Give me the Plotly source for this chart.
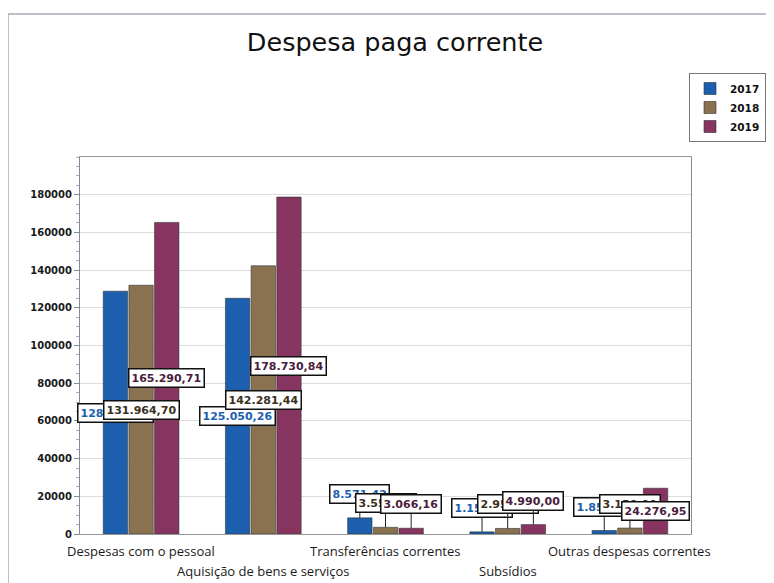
import plotly.graph_objects as go

categories = ["Despesas com o pessoal", "Aquisição de bens e serviços",
              "Transferências correntes", "Subsídios", "Outras despesas correntes"]
tick_labels = ["Despesas com o pessoal", "Aquisição de bens e serviços",
               "Transferências correntes", "Subsídios", "Outras despesas correntes"]
tick_rows = [0, 1, 0, 1, 0]
series_names = ["2017", "2018", "2019"]
v2017 = [128800.00, 125050.26, 8571.42, 1150.00, 1850.00]
v2018 = [131964.70, 142281.44, 3550.00, 2950.00, 3150.00]
v2019 = [165290.71, 178730.84, 3066.16, 4990.00, 24276.95]
y_ticks = [0, 20000, 40000, 60000, 80000, 100000, 120000, 140000, 160000, 180000]

values = [v2017, v2018, v2019]
colors = ["#1b5fae", "#8a7250", "#873560"]
label_colors = ["#1b5fae", "#3a3020", "#4a1d40"]

# page body has an 8px margin: work in figure pixels (picture pixel - 8)
OFF = 8
W, H = 774 - OFF, 583 - OFF
L, T = 80 - OFF, 157 - OFF
plot_w, plot_h = 611, 377
R = W - L - plot_w
B = H - T - plot_h


def px_x(p):  # picture x -> paper x
    return (p - OFF - L) / plot_w


def px_y(p):  # picture y -> paper y
    return (T + plot_h - (p - OFF)) / plot_h


fig = go.Figure()
for name, vals, c in zip(series_names, values, colors):
    fig.add_trace(go.Bar(name=name, x=categories, y=vals, marker_color=c,
                         marker_line=dict(color="#333333", width=0.6)))


def fmt(v):
    s = f"{v:,.2f}"
    return s.replace(",", "X").replace(".", ",").replace("X", ".")


n_cat = len(categories)
cat_w = plot_w / n_cat
bargap = 0.37
bar_slot = cat_w * (1 - bargap) / 3
annotations = []
for si, (vals, lc) in enumerate(zip(values, label_colors)):
    xshift = (si - 1) * bar_slot
    for cat, v in zip(categories, vals):
        common = dict(x=cat, xref="x", yref="y", text=fmt(v), xshift=xshift,
                      font=dict(family="DejaVu Sans", size=11, color=lc, weight="bold"),
                      bgcolor="white", bordercolor="#111111", borderwidth=1.5, borderpad=2)
        if v > 20000:
            annotations.append(dict(y=v / 2, showarrow=False, **common))
        else:
            annotations.append(dict(y=v, showarrow=True, arrowhead=0, arrowwidth=1,
                                    arrowcolor="#222222", ax=0, ay=-24, standoff=0, **common))

# staggered category labels
for cat, txt, row in zip(categories, tick_labels, tick_rows):
    annotations.append(dict(x=cat, xref="x", y=0, yref="paper", text=txt, showarrow=False,
                            yanchor="middle", yshift=-17 - 20 * row,
                            font=dict(family="Open Sans", size=13, color="#1a1a1a")))

fig.update_layout(
    width=W, height=H,
    margin=dict(l=L, r=R, t=T, b=B, autoexpand=False),
    paper_bgcolor="white", plot_bgcolor="white",
    barmode="group", bargap=bargap, bargroupgap=0.05,
    title=dict(text="Despesa paga corrente", x=(395 - OFF) / W, xanchor="center",
               y=1 - (42 - OFF) / H, yanchor="middle",
               font=dict(family="DejaVu Sans", size=25.5, color="#111111")),
    legend=dict(x=px_x(689), y=px_y(73), xanchor="left", yanchor="top",
                bordercolor="#777777", borderwidth=1, bgcolor="white",
                font=dict(family="DejaVu Sans", size=10.5, color="#111111", weight="bold"),
                itemwidth=30, tracegroupgap=2),
    annotations=annotations,
    shapes=[
        dict(type="line", xref="paper", yref="paper", x0=px_x(8), x1=px_x(8),
             y0=px_y(14), y1=-0.3, line=dict(color="#a8a8b8", width=1.5)),
        dict(type="line", xref="paper", yref="paper", x0=px_x(8), x1=1.3,
             y0=px_y(14), y1=px_y(14), line=dict(color="#a8a8b8", width=1.5)),
    ],
)
fig.update_xaxes(showticklabels=False, range=[-0.5, n_cat - 0.5], autorange=False,
                 showline=True, linecolor="#999999", linewidth=1, mirror=True,
                 ticks="", showgrid=False)
fig.update_yaxes(range=[0, 200000], autorange=False, tickvals=y_ticks,
                 ticktext=[str(t) for t in y_ticks],
                 tickfont=dict(family="DejaVu Sans", size=10, color="#1a1a1a", weight="bold"),
                 showline=True, linecolor="#8888a0", linewidth=1, mirror=True,
                 ticks="outside", ticklen=5, tickcolor="#888888",
                 showgrid=True, gridcolor="#dcdcdc", gridwidth=1, zeroline=False,
                 minor=dict(dtick=5000, ticklen=3, tickcolor="#aaaaaa", ticks="outside", showgrid=False))

fig.write_html("out.html")
